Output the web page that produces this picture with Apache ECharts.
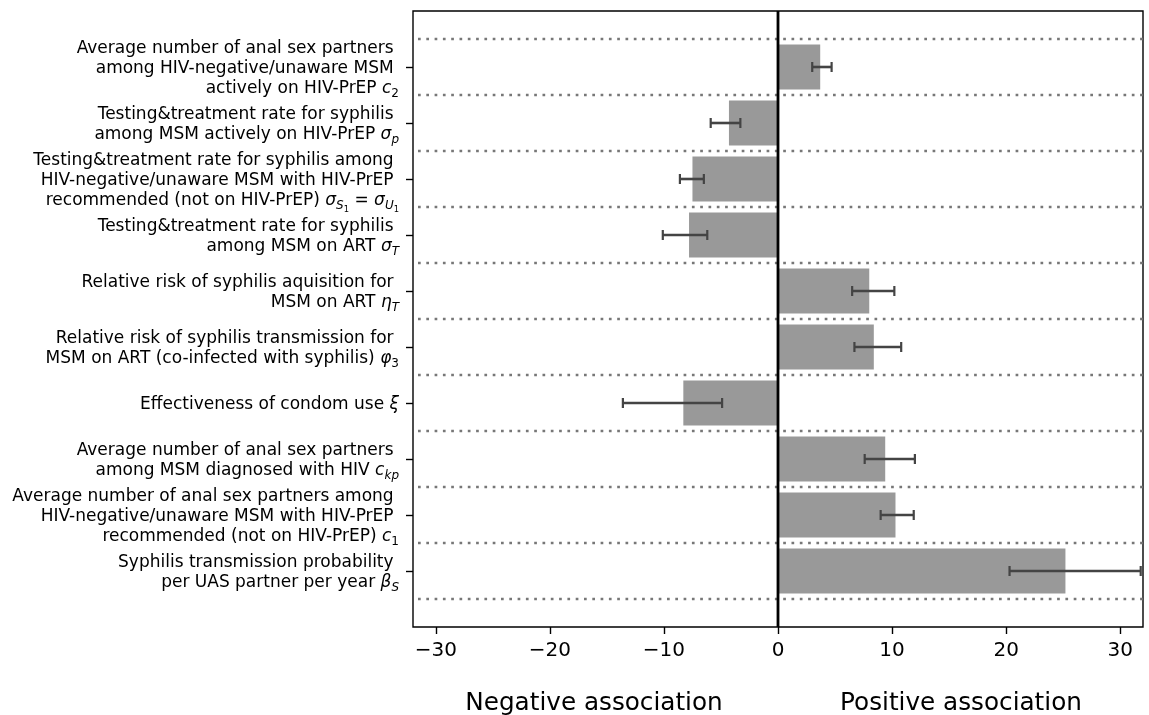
<!DOCTYPE html>
<html>
<head>
<meta charset="utf-8">
<script src="https://cdn.jsdelivr.net/npm/echarts@6/dist/echarts.min.js"></script>
<style>
  html, body { margin: 0; padding: 0; background: #fff; }
  #chart { width: 1149px; height: 715px; }
</style>
</head>
<body>
<div id="chart"></div>
<script>
// parameter labels, top to bottom (rich tokens used for the math parts)
var labels = [
    'Average number of anal sex partners \namong HIV-negative/unaware MSM \nactively on HIV-PrEP {i|c}{s|2}',
    'Testing&treatment rate for syphilis \namong MSM actively on HIV-PrEP {g|σ}{si|p}',
    'Testing&treatment rate for syphilis among \nHIV-negative/unaware MSM with HIV-PrEP \nrecommended (not on HIV-PrEP) {g|σ}{si|S}{ss|1} = {g|σ}{si|U}{ss|1}',
    'Testing&treatment rate for syphilis \namong MSM on ART {g|σ}{si|T}',
    'Relative risk of syphilis aquisition for \nMSM on ART {g|η}{si|T}',
    'Relative risk of syphilis transmission for \nMSM on ART (co-infected with syphilis) {g|φ}{s|3}',
    'Effectiveness of condom use {g|ξ}',
    'Average number of anal sex partners \namong MSM diagnosed with HIV {i|c}{si|kp}',
    'Average number of anal sex partners among \nHIV-negative/unaware MSM with HIV-PrEP \nrecommended (not on HIV-PrEP) {i|c}{s|1}',
    'Syphilis transmission probability \nper UAS partner per year {g|β}{si|S}'
];

// association estimate and its interval
var values = [3.7, -4.3, -7.5, -7.8, 8.0, 8.4, -8.3, 9.4, 10.3, 25.2];
var lower  = [3.0, -5.9, -8.6, -10.1, 6.5, 6.7, -13.6, 7.6, 9.0, 20.3];
var upper  = [4.7, -3.3, -6.5, -6.2, 10.2, 10.8, -4.9, 12.0, 11.9, 31.8];

var xTicks = [-30, -20, -10, 0, 10, 20, 30];
var yTicks = labels.map(function (l, i) { return i; });
// dotted separators sit half way between rows
var separators = labels.map(function (l, i) { return i - 0.5; }).concat([labels.length - 0.5]);

var FONT = 'DejaVu Sans';
var mainSize = 17;
var subSize = 12;

var chart = echarts.init(document.getElementById('chart'));

var option = {
    animation: false,
    backgroundColor: '#fff',
    grid: {
        left: 413, top: 11, right: 6, bottom: 88,
        show: true, borderColor: '#000', borderWidth: 1.4
    },
    xAxis: {
        type: 'value', min: -32, max: 32, position: 'bottom',
        axisLine: { show: false, onZero: false },
        splitLine: { show: false },
        axisTick: { show: true, length: 7, customValues: xTicks, lineStyle: { color: '#000', width: 1.4 } },
        axisLabel: {
            customValues: xTicks, margin: 14,
            fontFamily: FONT, fontSize: 20, color: '#000',
            formatter: function (v) { return String(v).replace('-', '\u2212'); }
        }
    },
    yAxis: {
        type: 'value', min: -1, max: 10, inverse: true, position: 'left',
        axisLine: { show: false, onZero: false },
        splitLine: { show: false },
        axisTick: { show: true, length: 7, customValues: yTicks, lineStyle: { color: '#000', width: 1.4 } },
        axisLabel: {
            customValues: yTicks, margin: 14,
            fontFamily: FONT, fontSize: mainSize, color: '#000', lineHeight: 20,
            align: 'right', padding: [4, 0, 0, 0],
            formatter: function (v) { return labels[v]; },
            rich: {
                i:  { fontFamily: FONT, fontSize: mainSize, fontStyle: 'italic', color: '#000', align: 'right' },
                g:  { fontFamily: FONT, fontSize: mainSize, fontStyle: 'italic', color: '#000', align: 'right' },
                s:  { fontFamily: FONT, fontSize: subSize, color: '#000', padding: [10, 0, 0, 0], align: 'right' },
                si: { fontFamily: FONT, fontSize: subSize, fontStyle: 'italic', color: '#000', padding: [10, 0, 0, 0], align: 'right' },
                ss: { fontFamily: FONT, fontSize: 8.4, color: '#000', padding: [17, 0, 0, 0], align: 'right' }
            }
        }
    },
    series: [
        {
            // dotted row separators
            type: 'custom', z: 1, silent: true,
            data: separators,
            encode: { y: 0 },
            renderItem: function (params, api) {
                var cs = params.coordSys;
                var y = api.coord([0, api.value(0)])[1];
                return {
                    type: 'line',
                    shape: { x1: cs.x + 5, y1: y, x2: cs.x + cs.width, y2: y },
                    style: { stroke: '#777777', lineWidth: 2.6, lineDash: [2.7, 5.6], lineCap: 'butt' }
                };
            }
        },
        {
            // bars
            type: 'custom', z: 2, silent: true,
            data: values.map(function (v, i) { return [v, i]; }),
            encode: { x: 0, y: 1 },
            renderItem: function (params, api) {
                var p0 = api.coord([0, api.value(1)]);
                var p1 = api.coord([api.value(0), api.value(1)]);
                var h = api.size([0, 0.8])[1];
                return {
                    type: 'rect',
                    shape: { x: Math.min(p0[0], p1[0]), y: p0[1] - h / 2, width: Math.abs(p1[0] - p0[0]), height: h },
                    style: { fill: '#999999' }
                };
            }
        },
        {
            // error bars with caps
            type: 'custom', z: 3, silent: true,
            data: lower.map(function (lo, i) { return [lo, upper[i], i]; }),
            encode: { x: [0, 1], y: 2 },
            renderItem: function (params, api) {
                var a = api.coord([api.value(0), api.value(2)]);
                var b = api.coord([api.value(1), api.value(2)]);
                var c = 5;
                var st = { stroke: '#444444', lineWidth: 2.6 };
                return {
                    type: 'group',
                    children: [
                        { type: 'line', shape: { x1: a[0], y1: a[1], x2: b[0], y2: b[1] }, style: st },
                        { type: 'line', shape: { x1: a[0], y1: a[1] - c, x2: a[0], y2: a[1] + c }, style: { stroke: '#444444', lineWidth: 2.2 } },
                        { type: 'line', shape: { x1: b[0], y1: b[1] - c, x2: b[0], y2: b[1] + c }, style: { stroke: '#444444', lineWidth: 2.2 } }
                    ]
                };
            }
        },
        {
            // vertical zero line
            type: 'custom', z: 4, silent: true,
            data: [0],
            encode: { x: 0 },
            renderItem: function (params, api) {
                var cs = params.coordSys;
                var x = api.coord([api.value(0), 0])[0];
                return {
                    type: 'line',
                    shape: { x1: x, y1: cs.y, x2: x, y2: cs.y + cs.height },
                    style: { stroke: '#000', lineWidth: 2.8 }
                };
            }
        }
    ],
    graphic: [
        {
            type: 'text', x: 594, y: 704,
            style: { text: 'Negative association', fontFamily: FONT, fontSize: 24.7, fill: '#000', align: 'center', verticalAlign: 'middle' }
        },
        {
            type: 'text', x: 961, y: 704,
            style: { text: 'Positive association', fontFamily: FONT, fontSize: 24.7, fill: '#000', align: 'center', verticalAlign: 'middle' }
        }
    ]
};

chart.setOption(option);
</script>
</body>
</html>
